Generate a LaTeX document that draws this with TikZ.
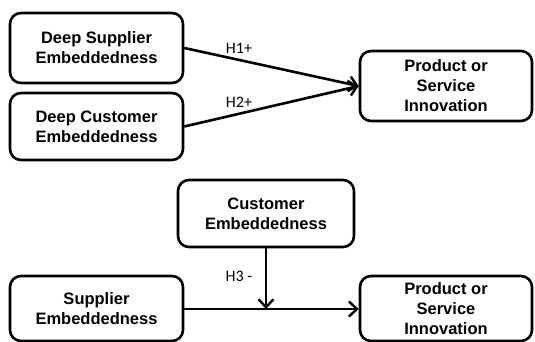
\documentclass[tikz,border=0pt]{standalone}
\usepackage{fontspec}
\setmainfont{Liberation Sans}
\newfontfamily\hypfont{Carlito}
\usetikzlibrary{arrows.meta}

\begin{document}
\begin{tikzpicture}[x=1pt,y=-1pt,
    construct/.style={draw,line width=2.6pt,rounded corners=11pt,align=center,
        minimum width=173pt,font=\fontsize{16.5}{20}\selectfont\bfseries,inner sep=0pt},
    link/.style={line width=2.6pt,-{Straight Barb[length=8pt,width=15pt,line width=2.4pt]}},
    hyp/.style={font=\hypfont\fontsize{16}{18}\selectfont}]
            \useasboundingbox (0,0) rectangle (535,342);

            % first model
            \node[construct,minimum height=70pt] (dse) at (96.5,48) {Deep Supplier\\Embeddedness};
            \node[construct,minimum height=67pt] (dce) at (96.5,126.5) {Deep Customer\\Embeddedness};
            \node[construct,minimum height=70pt,minimum width=172pt] (psi) at (446,86) {Product or\\Service\\Innovation};

            \draw[link] (dse.east) -- (psi.west);
            \draw[link] (dce.east) -- (psi.west);
            \node[hyp] (h1) at (239,48) {H1+};
            \node[hyp] (h2) at (239,102) {H2+};

            % second model
            \node[construct,minimum height=67pt,minimum width=176pt] (ce) at (266,213.5) {Customer\\Embeddedness};
            \node[construct,minimum height=65pt] (se) at (96.5,308.5) {Supplier\\Embeddedness};
            \node[construct,minimum height=65pt,minimum width=172pt] (psb) at (446,308.5) {Product or\\Service\\Innovation};
            \coordinate (mod) at (ce.south |- 0,309);

            \draw[link] (se.east |- mod) -- (psb.west |- mod);
            \draw[link] (ce.south) -- (mod);
            \node[hyp] (h3) at (239,276) {H3 -};
        \end{tikzpicture}
\end{document}
